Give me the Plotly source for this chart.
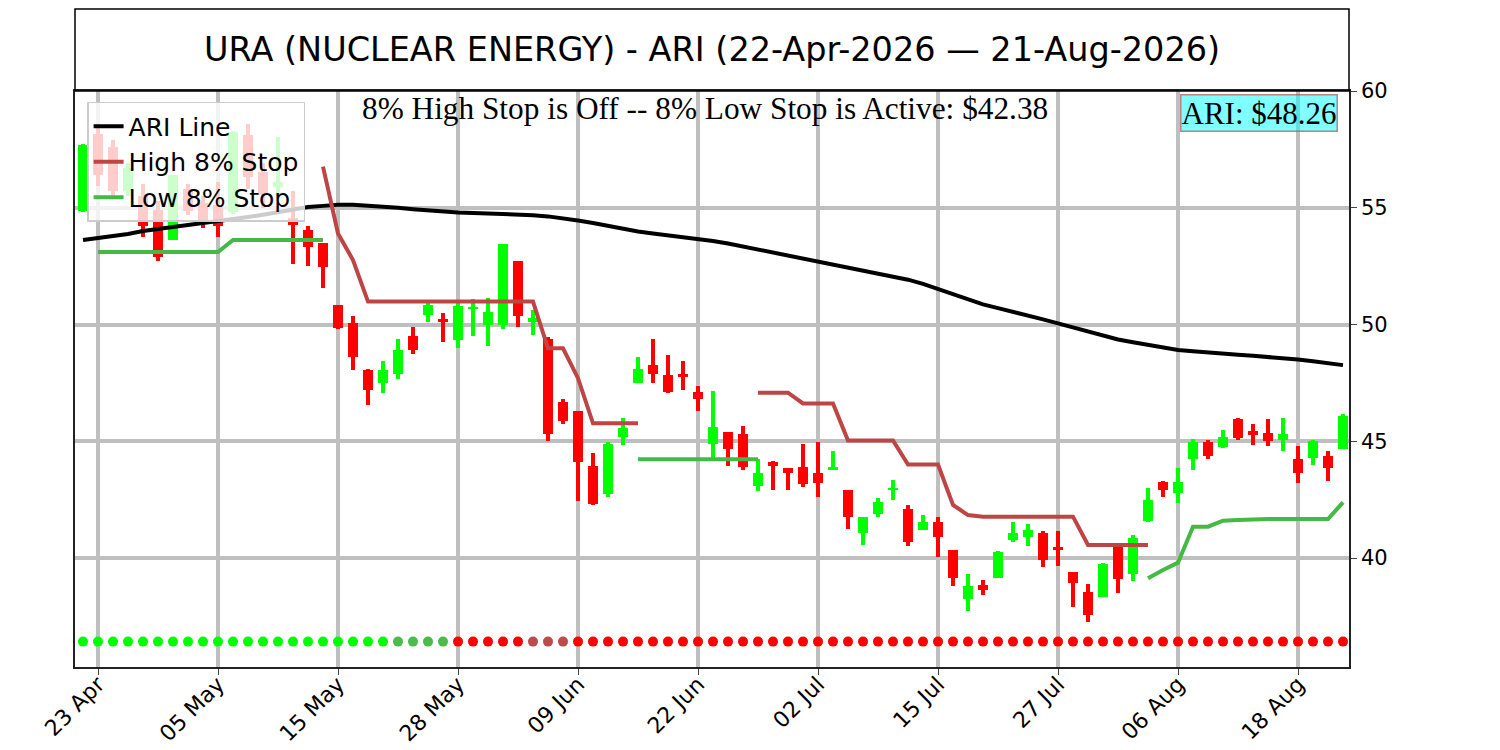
"""URA nuclear energy ARI chart with 8% high/low stops."""
import plotly.graph_objects as go

# daily OHLC, one entry per trading day 22-Apr-2026 .. 21-Aug-2026
opens = [54.85, 58.15, 57.6, 55.7, 55.5, 54.9, 53.62, 55.8, 55.2, 55.1,
         54.8, 58.1, 56.55, 55.9, 54.55, 54.05, 53.5, 50.85, 50.05, 48.05,
         47.5, 47.9, 49.5, 50.4, 50.25, 49.35, 50.65, 50.0, 50.0, 52.7,
         50.1, 49.4, 46.7, 46.3, 43.95, 42.75, 45.2, 47.5, 48.25, 47.85,
         47.9, 47.1, 44.9, 45.4, 45.3, 43.1, 44.1, 43.85, 43.9, 43.65,
         43.75, 42.9, 41.05, 41.9, 42.9, 42.1, 41.2, 41.55, 40.35, 38.25,
         38.85, 39.15, 40.75, 40.9, 41.05, 40.45, 39.4, 38.55, 38.35, 40.45,
         39.3, 41.6, 43.25, 42.8, 44.25, 44.95, 44.75, 45.95, 45.45, 45.35,
         45.05, 44.25, 44.3, 44.35, 44.65]
highs = [57.75, 58.6, 57.9, 56.9, 56.0, 55.3, 56.4, 56.0, 55.5, 56.1,
         58.3, 58.6, 56.9, 58.05, 55.7, 54.2, 53.5, 50.85, 50.35, 48.1,
         48.45, 49.4, 49.9, 51.05, 50.5, 50.9, 51.1, 51.15, 53.45, 52.7,
         50.6, 49.45, 46.8, 46.3, 44.5, 44.95, 46.0, 48.6, 49.4, 48.7,
         48.45, 47.35, 47.15, 45.4, 45.65, 44.25, 44.15, 43.85, 44.9, 44.95,
         44.6, 42.9, 41.75, 42.55, 43.35, 42.25, 41.85, 41.75, 40.35, 39.3,
         39.05, 40.3, 41.55, 41.45, 41.15, 41.15, 39.4, 38.9, 39.8, 40.5,
         41.0, 43.0, 43.3, 43.85, 45.1, 45.05, 45.5, 46.0, 45.75, 45.95,
         46.0, 44.8, 45.05, 44.6, 46.15]
lows = [54.8, 55.95, 55.5, 55.5, 53.75, 52.7, 53.6, 54.7, 54.15, 53.75,
        54.75, 55.8, 55.0, 55.5, 52.6, 52.5, 51.55, 49.8, 48.05, 46.55,
        47.05, 47.65, 48.75, 50.1, 49.25, 49.0, 49.5, 49.1, 49.8, 49.9,
        49.55, 45.0, 45.75, 42.45, 42.25, 42.6, 44.85, 47.5, 47.5, 47.05,
        47.2, 46.3, 44.3, 43.95, 43.75, 42.85, 42.9, 42.9, 43.05, 42.6,
        43.75, 41.25, 40.55, 41.75, 42.5, 40.5, 41.2, 40.05, 38.8, 37.75,
        38.4, 39.15, 40.7, 40.5, 39.6, 39.65, 37.9, 37.25, 38.35, 38.5,
        39.0, 41.55, 42.6, 42.35, 43.75, 44.25, 44.7, 45.05, 44.85, 44.8,
        44.6, 43.2, 44.0, 43.3, 44.65]
closes = [57.7, 56.4, 55.7, 56.7, 54.2, 52.9, 56.4, 54.85, 54.4, 54.2,
          58.25, 56.3, 55.55, 56.1, 54.25, 53.3, 52.45, 49.85, 48.6, 47.2,
          48.05, 48.9, 48.9, 50.85, 50.1, 50.8, 50.75, 50.55, 53.45, 50.35,
          50.3, 45.3, 45.85, 44.1, 42.3, 44.9, 45.55, 48.1, 47.9, 47.1,
          47.75, 46.8, 45.6, 44.65, 43.9, 43.65, 43.95, 43.65, 43.15, 43.2,
          43.9, 41.75, 41.75, 42.4, 43.0, 40.7, 41.55, 40.9, 39.15, 38.8,
          38.65, 40.25, 41.05, 41.2, 39.9, 40.35, 38.95, 37.55, 39.75, 39.1,
          40.85, 42.5, 42.9, 43.25, 44.95, 44.35, 45.2, 45.15, 45.25, 45.0,
          45.3, 43.65, 45.0, 43.85, 46.1]

ari_line = [53.62, 53.7, 53.79, 53.88, 54.0, 54.08, 54.16, 54.24, 54.32, 54.4,
            54.5, 54.6, 54.7, 54.82, 54.95, 55.03, 55.08, 55.13, 55.13, 55.1,
            55.06, 55.0, 54.94, 54.88, 54.85, 54.8, 54.78, 54.76, 54.75, 54.73,
            54.68, 54.63, 54.56, 54.45, 54.35, 54.22, 54.1, 53.98, 53.9, 53.83,
            53.76, 53.68, 53.58, 53.47, 53.34, 53.2, 53.08, 52.96, 52.84, 52.7,
            52.56, 52.44, 52.32, 52.2, 52.06, 51.92, 51.74, 51.52, 51.28, 51.04,
            50.86, 50.7, 50.55, 50.4, 50.22, 50.05, 49.88, 49.7, 49.52, 49.36,
            49.24, 49.12, 49.0, 48.91, 48.85, 48.79, 48.74, 48.7, 48.66, 48.62,
            48.58, 48.5, 48.43, 48.35, 48.26]

high_stop = [None, None, None, None, None, None, None, None, None, None,
             None, None, None, None, None, None, 56.76, 53.9, 52.76, 50.98,
             50.98, 50.98, 50.98, 50.98, 50.98, 50.98, 50.98, 50.98, 50.98, 50.98,
             50.98, 48.98, 48.98, 47.7, 45.77, 45.77, 45.77, 45.77, None, None,
             None, None, None, None, None, 47.08, 47.08, 47.08, 46.62, 46.62,
             46.62, 45.03, 45.03, 45.03, 45.03, 44.0, 44.0, 44.0, 42.27, 41.84,
             41.77, 41.77, 41.77, 41.77, 41.77, 41.77, 41.77, 40.56, 40.56, 40.56,
             40.56, 40.56, None, None, None, None, None, None, None, None,
             None, None, None, None, None]
low_stop = [None, 53.1, 53.1, 53.1, 53.1, 53.1, 53.1, 53.1, 53.1, 53.1,
            53.62, 53.62, 53.62, 53.62, 53.62, 53.62, 53.62, None, None, None,
            None, None, None, None, None, None, None, None, None, None,
            None, None, None, None, None, None, None, 44.23, 44.23, 44.23,
            44.23, 44.23, 44.23, 44.23, 44.23, 44.23, None, None, None, None,
            None, None, None, None, None, None, None, None, None, None,
            None, None, None, None, None, None, None, None, None, None,
            None, 39.13, 39.49, 39.8, 41.34, 41.34, 41.6, 41.63, 41.67, 41.67,
            41.67, 41.67, 41.67, 41.67, 42.38]

# signal state per day: G = up, g = weak up, R = down, r = weak down
signal = list("GGGGGGGGGGGGGGGGGGGGGggggRRRRRrrrRRRRRRRRRRRRRRRRRRRRRRRRRRRRRRRRRRRRRRRRRRRRRRRRRRRRR")

tick_pos = [1, 9, 17, 25, 33, 41, 49, 57, 65, 73, 81]
tick_text = ["23 Apr", "05 May", "15 May", "28 May", "09 Jun", "22 Jun",
             "02 Jul", "15 Jul", "27 Jul", "06 Aug", "18 Aug"]

title = "URA (NUCLEAR ENERGY) - ARI (22-Apr-2026 \u2014 21-Aug-2026)"
stop_text = "8% High Stop is Off -- 8% Low Stop is Active: $42.38"
ari_text = "ARI: $48.26"

UP = "#00ff00"
DOWN = "#ff0000"
HIGH_C = "#bf4545"
LOW_C = "#45b945"
signal_colors = {"G": UP, "g": "#4cbb4c", "R": DOWN, "r": "#bb4c4c"}


def main():
    n = len(opens)
    xs = list(range(n))
    colors = [UP if c >= o else DOWN for o, c in zip(opens, closes)]

    fig = go.Figure()

    # wicks
    fig.add_trace(go.Bar(
        x=xs, y=[h - l for h, l in zip(highs, lows)], base=lows,
        width=0.27, marker=dict(color=colors, line=dict(width=0)),
        showlegend=False, hoverinfo="skip",
    ))
    # bodies
    fig.add_trace(go.Bar(
        x=xs, y=[max(abs(c - o), 0.03) for o, c in zip(opens, closes)],
        base=[min(o, c) for o, c in zip(opens, closes)],
        width=0.68, marker=dict(color=colors, line=dict(width=0)),
        showlegend=False,
        customdata=list(zip(opens, highs, lows, closes)),
        hovertemplate="O %{customdata[0]}<br>H %{customdata[1]}<br>"
                      "L %{customdata[2]}<br>C %{customdata[3]}<extra></extra>",
    ))

    fig.add_trace(go.Scatter(x=xs, y=ari_line, mode="lines", name="ARI Line",
                             line=dict(color="black", width=4)))
    fig.add_trace(go.Scatter(x=xs, y=high_stop, mode="lines", name="High 8% Stop",
                             line=dict(color=HIGH_C, width=4)))
    fig.add_trace(go.Scatter(x=xs, y=low_stop, mode="lines", name="Low 8% Stop",
                             line=dict(color=LOW_C, width=4)))

    fig.add_trace(go.Scatter(
        x=xs, y=[36.42] * n, mode="markers", showlegend=False,
        marker=dict(size=10, color=[signal_colors[s] for s in signal]),
        hoverinfo="skip",
    ))

    # the page body adds ~8px offset, so margins are trimmed on left/top
    fig.update_layout(
        width=1500, height=750,
        margin=dict(l=67, r=159, t=83, b=91),
        paper_bgcolor="white", plot_bgcolor="white",
        barmode="overlay", bargap=0,
        font=dict(family="DejaVu Sans", color="black", size=19),
        legend=dict(
            x=0.0095, y=0.981, xanchor="left", yanchor="top",
            bgcolor="rgba(255,255,255,0.8)", bordercolor="#cccccc",
            borderwidth=1.5, font=dict(size=25), itemwidth=30,
        ),
        shapes=[dict(type="rect", xref="paper", yref="paper",
                     x0=0, x1=1, y0=1, y1=1.1424,
                     line=dict(color="black", width=1.5))],
        annotations=[
            dict(text=title, xref="paper", yref="paper", x=0.5, y=1.0712,
                 yanchor="middle", showarrow=False,
                 font=dict(size=33.5, family="DejaVu Sans")),
            dict(text=stop_text, xref="paper", yref="paper", x=0.4945, y=1,
                 xanchor="center", yanchor="top", yshift=2, showarrow=False,
                 font=dict(size=31.3, family="Liberation Serif")),
            dict(text=ari_text, xref="paper", yref="paper", x=0.991, y=1,
                 xanchor="right", yanchor="top", yshift=-3, showarrow=False,
                 bgcolor="rgba(0,255,255,0.5)", bordercolor="rgba(180,80,80,0.7)",
                 borderwidth=1.5, borderpad=0,
                 font=dict(size=31, family="Liberation Serif")),
        ],
    )
    fig.update_xaxes(
        range=[-0.533, 84.4], tickmode="array", tickvals=tick_pos,
        ticktext=tick_text, tickangle=-45, ticks="outside", ticklen=6,
        tickwidth=1.3, tickfont=dict(size=22), ticklabelstandoff=-12,
        showgrid=True, gridcolor="#bfbfbf", gridwidth=4, automargin=False,
        showline=True, linecolor="#222", linewidth=1.5, mirror=True,
        zeroline=False,
    )
    fig.update_yaxes(
        range=[35.332, 60.0], side="right", tickvals=[40, 45, 50, 55, 60],
        ticks="outside", ticklen=6, tickwidth=1.3, tickfont=dict(size=21),
        showgrid=True, gridcolor="#bfbfbf", gridwidth=4, showline=True,
        linecolor="#222", linewidth=1.5, mirror=True, zeroline=False,
        automargin=False,
    )

    fig.write_html("out.html")


if __name__ == "__main__":
    main()
